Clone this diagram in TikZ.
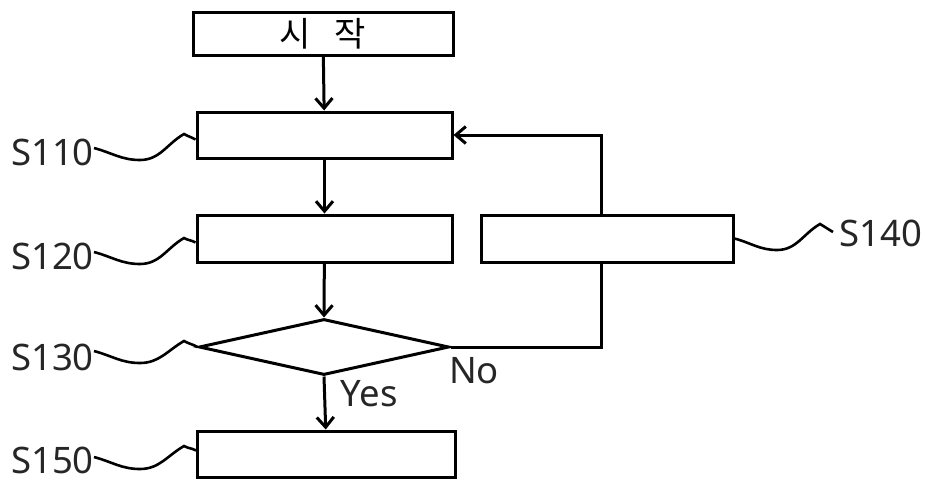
\documentclass[tikz,border=0pt]{standalone}
\usepackage{fontspec}
\setmainfont{Noto Sans}
\newfontfamily\kr{Noto Sans CJK KR}
\usetikzlibrary{arrows.meta,shapes.geometric,calc}
\begin{document}
\begin{tikzpicture}[x=1pt,y=-1pt,
  box/.style={draw,line width=3pt,inner sep=0pt,fill=white},
  lab/.style={font=\fontsize{36.5}{42}\selectfont,inner sep=0pt,text=black!85},
  flow/.style={line width=3pt,-{Straight Barb[length=10pt,width=17pt]}},
  plain/.style={line width=3pt},
  lead/.style={line width=2.6pt}]
\path[use as bounding box] (0,0) rectangle (925,483);
% nodes
\node[box,minimum width=260pt,minimum height=43pt] (start) at (323,33.5) {\kr\fontsize{34}{40}\selectfont 시\hspace{0.7em}작};
\node[box,minimum width=255pt,minimum height=46pt] (s110) at (324.5,135) {};
\node[box,minimum width=255pt,minimum height=47pt] (s120) at (324.5,238.5) {};
\node[box,minimum width=252pt,minimum height=47pt] (s140) at (607,238.5) {};
\node[draw,diamond,line width=3pt,inner sep=0pt,minimum width=250pt,minimum height=56pt] (dia) at (324,347) {};
\node[box,minimum width=258pt,minimum height=46pt] (s150) at (326.5,454) {};
\coordinate (loopx) at (601,135);
% labels
\node[lab,anchor=east] (l110) at (94,152) {S110};
\node[lab,anchor=east] (l120) at (94,256) {S120};
\node[lab,anchor=east] (l130) at (94,357) {S130};
\node[lab,anchor=east] (l150) at (94,460) {S150};
\node[lab,anchor=west] (l140) at (839,233) {S140};
\node[lab] (yes) at (369,394) {Yes};
\node[lab] (no) at (474,371) {No};
% connectors
\draw[flow] (start) -- (s110);
\draw[flow] (s110) -- (s120);
\draw[flow] (s120) -- (dia.north);
\draw[flow] (dia.south) -- (s150);
\draw[plain] (dia.east) -| (s140.south -| loopx);
\draw[flow] (s140.north -| loopx) |- (s110.east);
% leaders
\draw[lead] ([yshift=4pt]l110.east) to[out=-15,in=180] (140,160) to[out=0,in=210] (184,134) to[out=-30,in=150] ($(s110.north west)+(0,29)$);
\draw[lead] ([yshift=4pt]l120.east) to[out=-15,in=180] (140,264) to[out=0,in=210] (184,238) to[out=-30,in=150] ($(s120.north west)+(0,29)$);
\draw[lead] ([yshift=6pt]l130.east) to[out=-15,in=180] (140,363) to[out=0,in=210] (184,341) to[out=-30,in=150] (dia.west);
\draw[lead] ([yshift=3pt]l150.east) to[out=-15,in=180] (140,469) to[out=0,in=210] (184,446) to[out=-30,in=150] ($(s150.north west)+(0,21)$);
\draw[lead] (s140.east) to[out=-15,in=180] (777,250) to[out=0,in=210] (820,224) to[out=-30,in=150] ([xshift=-6pt,yshift=1pt]l140.west);
\end{tikzpicture}
\end{document}
